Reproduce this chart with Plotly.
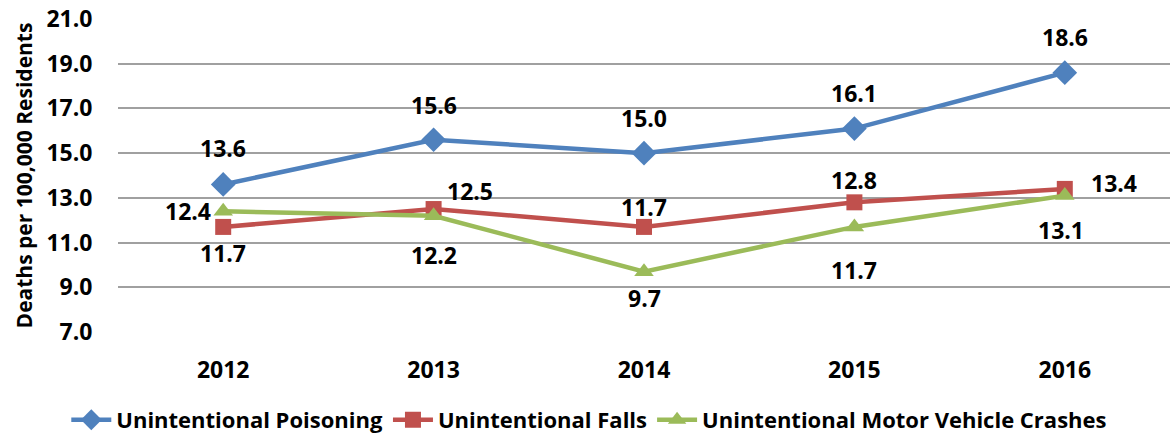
import plotly.graph_objects as go

years = ["2012", "2013", "2014", "2015", "2016"]
poisoning = [13.6, 15.6, 15.0, 16.1, 18.6]
falls = [11.7, 12.5, 11.7, 12.8, 13.4]
crashes = [12.4, 12.2, 9.7, 11.7, 13.1]
y_ticks = [7.0, 9.0, 11.0, 13.0, 15.0, 17.0, 19.0, 21.0]

FONT = "Open Sans"
NUM_SIZE = 23
fig = go.Figure()
series = [
    ("Unintentional Poisoning", poisoning, "#4F81BD", "diamond", 19),
    ("Unintentional Falls", falls, "#C0504D", "square", 16),
    ("Unintentional Motor Vehicle Crashes", crashes, "#9BBB59", "triangle-up", 17),
]
for name, vals, col, sym, sz in series:
    fig.add_trace(go.Scatter(x=years, y=vals, name=f"<b>{name}</b>", mode="lines+markers",
                             line=dict(color=col, width=4.5),
                             marker=dict(symbol=sym, size=sz, color=col)))

# label offsets (pixels) per series, per point
offsets = {
    0: [(0, 36), (0, 35), (0, 35), (0, 36), (0, 36)],
    1: [(0, -26), (36, 18), (0, 20), (0, 22), (49, 6)],
    2: [(-35, 0), (0, -39), (0, -26), (0, -43), (-4, -34)],
}
annotations = []
for si, (name, vals, col, sym, sz) in enumerate(series):
    for i, v in enumerate(vals):
        dx, dy = offsets[si][i]
        annotations.append(dict(x=i, y=v, xref="x", yref="y",
                                text=f"<b>{v:.1f}</b>", showarrow=False,
                                xshift=dx, yshift=dy,
                                font=dict(family=FONT, size=NUM_SIZE, color="#000000")))

fig.update_layout(
    width=1172, height=436,
    margin=dict(l=118, r=2, t=19, b=104, autoexpand=False),
    paper_bgcolor="white", plot_bgcolor="white",
    font=dict(family=FONT, size=18, color="#000000"),
    showlegend=True,
    annotations=annotations,
    legend=dict(orientation="h", x=0.448, xanchor="center",
                y=-0.281, yanchor="middle",
                font=dict(family=FONT, size=22, color="#000000"),
                itemwidth=40, tracegroupgap=0),
)
fig.update_xaxes(type="category", range=[-0.5, 4.5], showgrid=False, zeroline=False,
                 showline=False, automargin=False,
                 ticks="outside", ticklen=17, tickcolor="rgba(0,0,0,0)",
                 tickvals=years, ticktext=[f"<b>{y}</b>" for y in years],
                 tickfont=dict(family=FONT, size=NUM_SIZE))
fig.update_yaxes(range=[7, 21], tickvals=y_ticks, ticktext=[f"<b>{t:.1f}</b>" for t in y_ticks],
                 showgrid=True, gridcolor="#A0A0A0", gridwidth=1.8, zeroline=False,
                 automargin=False,
                 ticks="outside", ticklen=20, tickcolor="rgba(0,0,0,0)",
                 tickfont=dict(family=FONT, size=NUM_SIZE),
                 title=dict(text="<b>Deaths per 100,000 Residents</b>", standoff=8,
                            font=dict(family=FONT, size=21)))

fig.write_html("out.html", config={"displayModeBar": False},
               post_script="document.body.style.margin='0';")
